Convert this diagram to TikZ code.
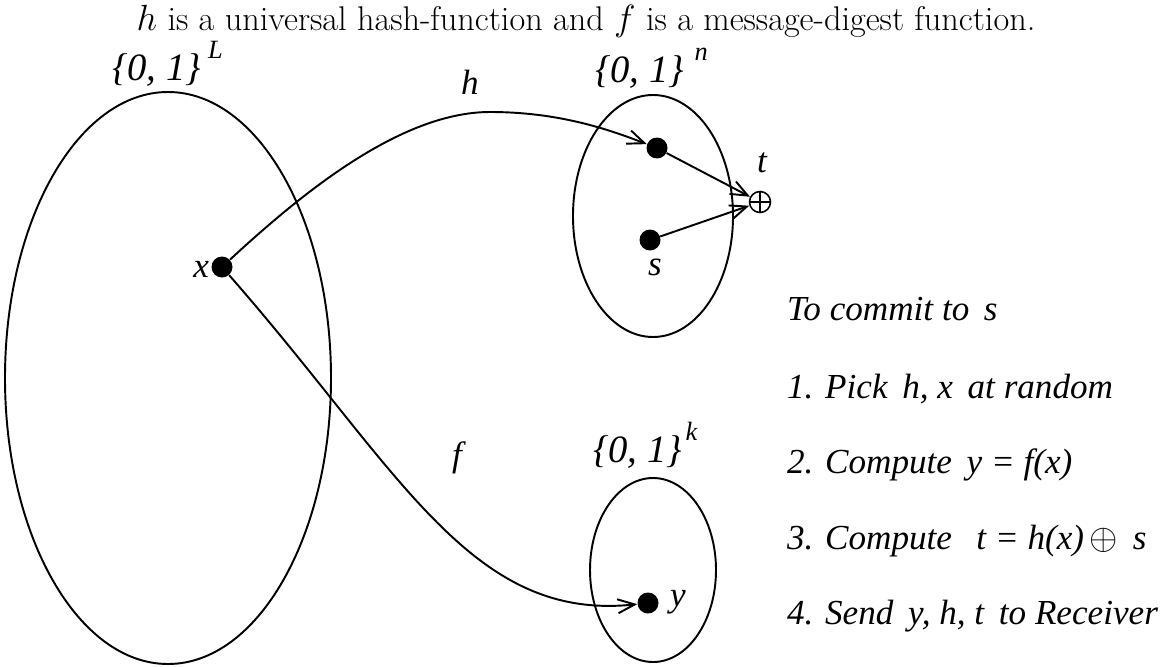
\documentclass[tikz,border=0pt]{standalone}
\usepackage{fontspec}
\newfontfamily\tms{Liberation Serif}
\usetikzlibrary{arrows.meta}
\newcommand{\supit}[2]{\hspace{#2}\raisebox{12.5pt}{\tms\itshape\fontsize{15}{17}\selectfont #1}}
\begin{document}
\begin{tikzpicture}[x=0.02cm,y=-0.02cm,
  set/.style={draw,line width=1.1pt},
  dotnode/.style={circle,fill=black,inner sep=0pt,minimum size=0.42cm},
  lbl/.style={font=\tms\itshape\fontsize{20}{24}\selectfont,inner sep=1pt},
  setlbl/.style={font=\tms\itshape\fontsize{22}{26}\selectfont,inner sep=1pt,anchor=base west},
  conn/.style={line width=1.1pt,-{Straight Barb[length=3.4mm,width=2.8mm]}},
  xornode/.style={circle,draw,line width=0.9pt,inner sep=0pt,minimum size=0.42cm,
    path picture={\draw[line width=0.9pt] (path picture bounding box.north) -- (path picture bounding box.south)
      (path picture bounding box.west) -- (path picture bounding box.east);}}]
\useasboundingbox (0,0) rectangle (1169,666);
% sets
\draw[set] (168,378) ellipse [x radius=163, y radius=286];
\draw[set] (653,216) ellipse [x radius=80, y radius=121];
\draw[set] (653,570) ellipse [x radius=63, y radius=92];
% title
\node[font=\fontsize{19.5}{23}\selectfont,anchor=base] (title) at (586,31) {$h$ is a universal hash-function and $f$ is a message-digest function.};
% set labels
\node[setlbl] (setL) at (110,80) {\{0, 1\}\supit{L}{4pt}};
\node[setlbl] (setn) at (593,82) {\{0, 1\}\supit{n}{6pt}};
\node[setlbl] (setk) at (591,462) {\{0, 1\}\supit{k}{2pt}};
% points
\node[dotnode] (x) at (222,267) {};
\node[lbl,anchor=east] (xl) at (211,269) {x};
\node[dotnode] (hx) at (657,148) {};
\node[dotnode] (s) at (650,240) {};
\node[lbl,anchor=north] (sl) at (655,257) {s};
\node[xornode] (t) at (760,202) {};
\node[lbl] (tl) at (762,163) {t};
\node[dotnode] (y) at (648,603) {};
\node[lbl,anchor=west] (yl) at (668,602) {y};
% function labels
\node[lbl] (hl) at (470,82) {h};
\node[lbl] (fl) at (457,458) {f};
% connectors
\coordinate (peak) at (490,112);
\draw[conn] (x) .. controls (300,195) and (400,112) .. (peak) .. controls (560,112) and (610,130) .. (hx);
\draw[conn] (x) .. controls (400,470) and (470,622) .. (y);
\draw[conn] (hx) -- (t);
\draw[conn] (s) -- (t);
% protocol text
\begin{scope}[every node/.style={lbl,anchor=base west}]
\node (p0) at (785,320) {To commit to \,s};
\node (p1) at (785,398) {1. Pick \,h, x \,at random};
\node (p2) at (785,473) {2. Compute \,y = f(x)};
\node (p3) at (785,549) {3. Compute \;\,t = h(x)\,{\normalfont\fontsize{20}{24}\selectfont$\oplus$}\, s};
\node (p4) at (785,624) {4. Send \,y, h, t \,to Receiver};
\end{scope}
\end{tikzpicture}
\end{document}
